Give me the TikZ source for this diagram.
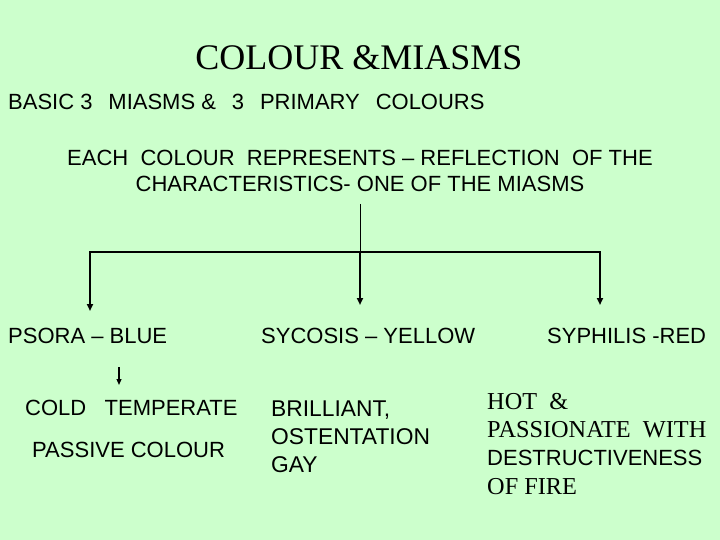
\documentclass[tikz,border=0pt]{standalone}
\usepackage{fontspec}
\setmainfont{Liberation Serif}
\setsansfont{Liberation Sans}
\usetikzlibrary{arrows.meta}
\definecolor{PaleGreen}{RGB}{204,255,204}

\begin{document}
\begin{tikzpicture}[x=1pt, y=-1pt, every node/.style={inner sep=0pt}]

      \tikzstyle{Sans}=[font=\sffamily\fontsize{22}{26}\selectfont];
      \tikzstyle{Serif}=[font=\rmfamily\fontsize{24.3}{28}\selectfont];
      \tikzstyle{Link}=[line width=1.8pt, -{Triangle[width=6pt, length=7pt]}];

        \fill[PaleGreen] (0, 0) rectangle (720, 540);

        \node[font=\rmfamily\fontsize{36}{40}\selectfont](Title) at (359, 58) {COLOUR \&MIASMS};
        \node[Sans, anchor=west](Basic) at (8, 102) {BASIC 3~\, MIASMS \&~\, 3~\, PRIMARY~\, COLOURS};
        \node[Sans, align=center](Each) at (360, 171) {
          EACH~ COLOUR~ REPRESENTS -- REFLECTION~ OF THE\\
          CHARACTERISTICS- ONE OF THE MIASMS};

        \node[Sans, anchor=west](Psora) at (8, 336) {PSORA -- BLUE};
        \node[Sans, anchor=west](Sycosis) at (261, 336) {SYCOSIS -- YELLOW};
        \node[Sans, anchor=west](Syphilis) at (547, 336) {SYPHILIS -RED};

        \node[Sans, anchor=west](Cold) at (25, 408) {COLD~~ TEMPERATE};
        \node[Sans, anchor=west](Passive) at (32, 450) {PASSIVE COLOUR};

        \node[Sans, anchor=west, align=left, font=\sffamily\fontsize{22.8}{26}\selectfont](Brilliant) at (271, 437) {
          BRILLIANT,\\[2pt]
          OSTENTATION\\[2pt]
          GAY};

        \node[Serif, anchor=west](Hot) at (487, 402) {HOT~ \&};
        \node[Serif, anchor=west](Passionate) at (487, 430) {PASSIONATE~ WITH};
        \node[Sans, anchor=west](Destruct) at (487, 458) {DESTRUCTIVENESS};
        \node[Serif, anchor=west](Fire) at (487, 487) {OF FIRE};

        \coordinate (Stem) at (360, 204);
        \coordinate (Fork) at (360, 252);
        \coordinate (PsoraEnd) at (90, 311);
        \coordinate (SycosisEnd) at (360, 305);
        \coordinate (SyphilisEnd) at (600, 305);
        \coordinate (ColdStart) at (119, 367);
        \coordinate (ColdEnd) at (119, 385);

        \draw[line width=1pt] (Stem) -- (Fork);
        \draw[Link] (Fork) -| (PsoraEnd);
        \draw[Link] (Fork) -- (SycosisEnd);
        \draw[Link] (Fork) -| (SyphilisEnd);
        \draw[line width=1.2pt, -{Triangle[width=5pt, length=6pt]}] (ColdStart) -- (ColdEnd);

    \end{tikzpicture}
\end{document}
